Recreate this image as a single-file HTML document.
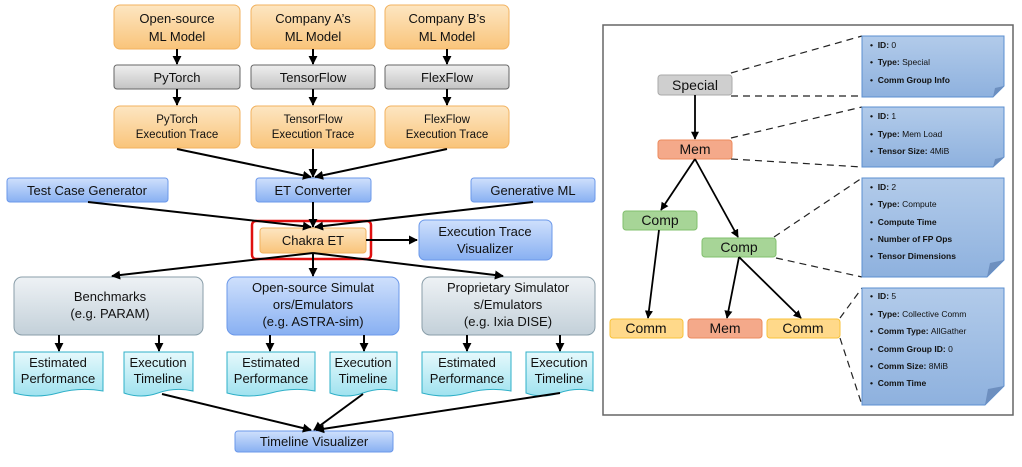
<!DOCTYPE html>
<html><head><meta charset="utf-8"><style>
html,body{margin:0;padding:0;background:#fff;}
svg{display:block;font-family:"Liberation Sans",sans-serif;}
</style></head><body>
<svg width="1022" height="467" viewBox="0 0 1022 467" xmlns="http://www.w3.org/2000/svg">
<defs>
<linearGradient id="or" x1="0" y1="0" x2="0" y2="1"><stop offset="0" stop-color="#fde6c2"/><stop offset="1" stop-color="#f9c47a"/></linearGradient>
<linearGradient id="gr" x1="0" y1="0" x2="0" y2="1"><stop offset="0" stop-color="#efefef"/><stop offset="1" stop-color="#c4c4c4"/></linearGradient>
<linearGradient id="bl" x1="0" y1="0" x2="0" y2="1"><stop offset="0" stop-color="#cfe0fc"/><stop offset="1" stop-color="#88b0f2"/></linearGradient>
<linearGradient id="sg" x1="0" y1="0" x2="0" y2="1"><stop offset="0" stop-color="#eef2f5"/><stop offset="1" stop-color="#c3d0d9"/></linearGradient>
<linearGradient id="cy" x1="0" y1="0" x2="0" y2="1"><stop offset="0" stop-color="#e6f9fc"/><stop offset="1" stop-color="#9fe2ef"/></linearGradient>
<linearGradient id="nt" x1="0" y1="0" x2="0" y2="1"><stop offset="0" stop-color="#b2cbea"/><stop offset="1" stop-color="#8eb1de"/></linearGradient>
<marker id="ah" viewBox="0 0 10 10" refX="9" refY="5" markerWidth="4.5" markerHeight="4.5" orient="auto"><path d="M0,0L10,5L0,10z" fill="#000"/></marker>
</defs>

<g font-size="13" text-anchor="middle" fill="#111">
<rect x="114" y="5" width="126" height="44" rx="6" fill="url(#or)" stroke="#f2b25f"/>
<text x="177" y="23">Open-source</text><text x="177" y="41">ML Model</text>
<rect x="251" y="5" width="124" height="44" rx="6" fill="url(#or)" stroke="#f2b25f"/>
<text x="313" y="23">Company A’s</text><text x="313" y="41">ML Model</text>
<rect x="385" y="5" width="124" height="44" rx="6" fill="url(#or)" stroke="#f2b25f"/>
<text x="447" y="23">Company B’s</text><text x="447" y="41">ML Model</text>

<rect x="114" y="65" width="126" height="24" rx="3" fill="url(#gr)" stroke="#666"/>
<text x="177" y="82">PyTorch</text>
<rect x="251" y="65" width="124" height="24" rx="3" fill="url(#gr)" stroke="#666"/>
<text x="313" y="82">TensorFlow</text>
<rect x="385" y="65" width="124" height="24" rx="3" fill="url(#gr)" stroke="#666"/>
<text x="447" y="82">FlexFlow</text>

<g font-size="11.5">
<rect x="114" y="106" width="126" height="42" rx="6" fill="url(#or)" stroke="#f2b25f"/>
<text x="177" y="123">PyTorch</text><text x="177" y="138">Execution Trace</text>
<rect x="251" y="106" width="124" height="42" rx="6" fill="url(#or)" stroke="#f2b25f"/>
<text x="313" y="123">TensorFlow</text><text x="313" y="138">Execution Trace</text>
<rect x="385" y="106" width="124" height="42" rx="6" fill="url(#or)" stroke="#f2b25f"/>
<text x="447" y="123">FlexFlow</text><text x="447" y="138">Execution Trace</text>
</g>

<rect x="7" y="178" width="161" height="24" rx="3" fill="url(#bl)" stroke="#6b98ea"/>
<text x="87" y="195">Test Case Generator</text>
<rect x="256" y="178" width="115" height="24" rx="3" fill="url(#bl)" stroke="#6b98ea"/>
<text x="313" y="195">ET Converter</text>
<rect x="471" y="178" width="124" height="24" rx="3" fill="url(#bl)" stroke="#6b98ea"/>
<text x="533" y="195">Generative ML</text>

<rect x="252" y="221" width="119" height="38" rx="4" fill="none" stroke="#e01010" stroke-width="2.5"/>
<rect x="260" y="228" width="106" height="25" rx="3" fill="url(#or)" stroke="#f2b25f"/>
<text x="313" y="245">Chakra ET</text>
<rect x="419" y="220" width="133" height="40" rx="6" fill="url(#bl)" stroke="#6b98ea"/>
<text x="485" y="236">Execution Trace</text><text x="485" y="253">Visualizer</text>

<rect x="14" y="277" width="189" height="58" rx="8" fill="url(#sg)" stroke="#8a9ea9"/>
<text x="110" y="301">Benchmarks</text><text x="110" y="318">(e.g. PARAM)</text>
<rect x="227" y="277" width="172" height="58" rx="8" fill="url(#bl)" stroke="#6b98ea"/>
<text x="313" y="292">Open-source Simulat</text><text x="313" y="309">ors/Emulators</text><text x="313" y="326">(e.g. ASTRA-sim)</text>
<rect x="422" y="277" width="173" height="58" rx="8" fill="url(#sg)" stroke="#8a9ea9"/>
<text x="508" y="292">Proprietary Simulator</text><text x="508" y="309">s/Emulators</text><text x="508" y="326">(e.g. Ixia DISE)</text>

<g stroke="#2fb0c8" fill="url(#cy)">
<path d="M14,352H103V391Q80,387 58,393Q36,399 14,393Z"/>
<path d="M124,352H193V391Q175,387 158,393Q141,399 124,393Z"/>
<path d="M227,352H315V391Q293,387 271,393Q249,399 227,393Z"/>
<path d="M330,352H397V391Q380,387 363,393Q346,399 330,393Z"/>
<path d="M422,352H511V391Q489,387 467,393Q445,399 422,393Z"/>
<path d="M526,352H593V391Q576,387 559,393Q542,399 526,393Z"/>
</g>
<g font-size="13">
<text x="58" y="367">Estimated</text><text x="58" y="383">Performance</text>
<text x="158" y="367">Execution</text><text x="158" y="383">Timeline</text>
<text x="271" y="367">Estimated</text><text x="271" y="383">Performance</text>
<text x="363" y="367">Execution</text><text x="363" y="383">Timeline</text>
<text x="467" y="367">Estimated</text><text x="467" y="383">Performance</text>
<text x="559" y="367">Execution</text><text x="559" y="383">Timeline</text>
</g>

<rect x="235" y="431" width="158" height="21" rx="3" fill="url(#bl)" stroke="#6b98ea"/>
<text x="314" y="446">Timeline Visualizer</text>
</g>

<g stroke="#000" stroke-width="2" fill="none" marker-end="url(#ah)">
<line x1="177" y1="49" x2="177" y2="64"/><line x1="313" y1="49" x2="313" y2="64"/><line x1="447" y1="49" x2="447" y2="64"/>
<line x1="177" y1="89" x2="177" y2="105"/><line x1="313" y1="89" x2="313" y2="105"/><line x1="447" y1="89" x2="447" y2="105"/>
<line x1="177" y1="149" x2="311" y2="177"/><line x1="313" y1="149" x2="313" y2="177"/><line x1="447" y1="149" x2="315" y2="177"/>
<line x1="88" y1="202" x2="311" y2="227"/><line x1="313" y1="202" x2="313" y2="227"/><line x1="533" y1="202" x2="315" y2="227"/>
<line x1="366" y1="240" x2="417" y2="240"/>
<line x1="313" y1="253" x2="112" y2="276"/><line x1="313" y1="253" x2="313" y2="276"/><line x1="313" y1="253" x2="503" y2="276"/>
<line x1="59" y1="335" x2="59" y2="351"/><line x1="159" y1="335" x2="159" y2="351"/>
<line x1="270" y1="335" x2="270" y2="351"/><line x1="364" y1="335" x2="364" y2="351"/>
<line x1="467" y1="335" x2="467" y2="351"/><line x1="560" y1="335" x2="560" y2="351"/>
<line x1="162" y1="394" x2="311" y2="430"/><line x1="363" y1="394" x2="314" y2="430"/><line x1="560" y1="393" x2="316" y2="430"/>
</g>

<rect x="603" y="25" width="410" height="390" fill="#fff" stroke="#666" stroke-width="1.5"/>
<g stroke="#222" stroke-width="1.2" stroke-dasharray="7,5" fill="none">
<line x1="731" y1="73" x2="862" y2="36"/><line x1="731" y1="96" x2="862" y2="96"/>
<line x1="731" y1="138" x2="862" y2="107"/><line x1="731" y1="159" x2="862" y2="167"/>
<line x1="774" y1="237" x2="862" y2="178"/><line x1="776" y1="258" x2="862" y2="277"/>
<line x1="840" y1="318" x2="862" y2="288"/><line x1="840" y1="338" x2="862" y2="405"/>
</g>
<g stroke="#5b8fd0" fill="url(#nt)">
<path d="M862,36H1004V86L993,97H862Z"/>
<path d="M862,107H1004V157L993,167H862Z"/>
<path d="M862,178H1004V260L987,277H862Z"/>
<path d="M862,288H1004V386L985,405H862Z"/>
</g>
<g fill="#6d8fbf"><path d="M1004,86L993,97L995,88Z"/><path d="M1004,157L993,167L995,159Z"/><path d="M1004,260L987,277L990,263Z"/><path d="M1004,386L985,405L988,389Z"/></g>
<g font-size="8.5" fill="#111">
<g font-weight="bold">
<text x="870" y="48">•&#160;&#160;ID: <tspan font-weight="normal">0</tspan></text>
<text x="870" y="65">•&#160;&#160;Type: <tspan font-weight="normal">Special</tspan></text>
<text x="870" y="83">•&#160;&#160;Comm Group Info</text>
<text x="870" y="119">•&#160;&#160;ID: <tspan font-weight="normal">1</tspan></text>
<text x="870" y="137">•&#160;&#160;Type: <tspan font-weight="normal">Mem Load</tspan></text>
<text x="870" y="154">•&#160;&#160;Tensor Size: <tspan font-weight="normal">4MiB</tspan></text>
<text x="870" y="190">•&#160;&#160;ID: <tspan font-weight="normal">2</tspan></text>
<text x="870" y="207">•&#160;&#160;Type: <tspan font-weight="normal">Compute</tspan></text>
<text x="870" y="225">•&#160;&#160;Compute Time</text>
<text x="870" y="242">•&#160;&#160;Number of FP Ops</text>
<text x="870" y="259">•&#160;&#160;Tensor Dimensions</text>
<text x="870" y="299">•&#160;&#160;ID: <tspan font-weight="normal">5</tspan></text>
<text x="870" y="317">•&#160;&#160;Type: <tspan font-weight="normal">Collective Comm</tspan></text>
<text x="870" y="334">•&#160;&#160;Comm Type: <tspan font-weight="normal">AllGather</tspan></text>
<text x="870" y="352">•&#160;&#160;Comm Group ID: <tspan font-weight="normal">0</tspan></text>
<text x="870" y="369">•&#160;&#160;Comm Size: <tspan font-weight="normal">8MiB</tspan></text>
<text x="870" y="386">•&#160;&#160;Comm Time</text>
</g></g>

<g font-size="14" text-anchor="middle" fill="#111">
<rect x="658" y="75" width="74" height="20" rx="3" fill="#cfcfcf" stroke="#aaa"/>
<text x="695" y="90">Special</text>
<rect x="658" y="140" width="74" height="19" rx="3" fill="#f4a98a" stroke="#ec8a5c"/>
<text x="695" y="154">Mem</text>
<rect x="623" y="211" width="74" height="19" rx="3" fill="#a7d597" stroke="#82c06e"/>
<text x="660" y="225">Comp</text>
<rect x="702" y="238" width="74" height="19" rx="3" fill="#a7d597" stroke="#82c06e"/>
<text x="739" y="252">Comp</text>
<rect x="610" y="319" width="73" height="19" rx="3" fill="#ffd98a" stroke="#f8c23a"/>
<text x="646" y="333">Comm</text>
<rect x="688" y="319" width="74" height="19" rx="3" fill="#f4a98a" stroke="#ec8a5c"/>
<text x="725" y="333">Mem</text>
<rect x="767" y="319" width="73" height="19" rx="3" fill="#ffd98a" stroke="#f8c23a"/>
<text x="803" y="333">Comm</text>
</g>
<g stroke="#000" stroke-width="1.8" fill="none" marker-end="url(#ah)">
<line x1="695" y1="95" x2="695" y2="139"/>
<line x1="695" y1="159" x2="661" y2="210"/>
<line x1="695" y1="159" x2="738" y2="237"/>
<line x1="659" y1="230" x2="648" y2="318"/>
<line x1="739" y1="257" x2="727" y2="318"/>
<line x1="739" y1="257" x2="801" y2="318"/>
</g>
</svg>
</body></html>
